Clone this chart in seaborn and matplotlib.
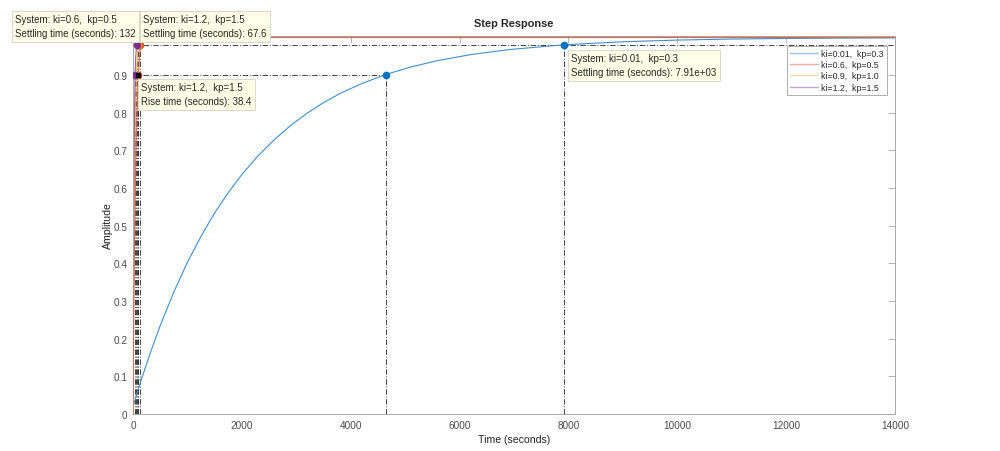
import numpy as np
import pandas as pd
import matplotlib
matplotlib.use('Agg')
import matplotlib.pyplot as plt
import seaborn as sns

# Valori (risposta al gradino)
labels = ['ki=0.01,  kp=0.3', 'ki=0.6,  kp=0.5', 'ki=0.9,  kp=1.0', 'ki=1.2,  kp=1.5']
line_colors = ['#3f8fc9', '#d9694a', '#efbf5a', '#9a5aa4']
marker_colors = ['#0072BD', '#D95319', '#EDB120', '#7E2F8E']

t_blue = [0, 150, 300, 500, 750, 1000, 1250, 1500, 1750, 2000, 2300, 2600, 2900, 3200,
          3500, 3800, 4200, 4650, 5100, 5600, 6200, 6900, 7910, 9000, 10000, 11000,
          12000, 13000, 14000]
y_blue = [0.02, 0.09, 0.155, 0.235, 0.324, 0.403, 0.472, 0.534, 0.588, 0.636, 0.686,
          0.729, 0.767, 0.799, 0.827, 0.851, 0.8775, 0.902, 0.9215, 0.9387, 0.9544,
          0.9677, 0.9805, 0.9886, 0.9931, 0.9958, 0.9974, 0.9984, 0.999]

t_red = [0, 10, 25, 40, 60, 80, 100, 132, 170, 220, 300, 14000]
y_red = [0.0, 0.2, 0.42, 0.58, 0.73, 0.83, 0.90, 0.98, 0.99, 0.997, 1.0, 1.0]

t_orange = [0, 10, 20, 30, 45, 63, 80, 95, 120, 160, 250, 14000]
y_orange = [0.0, 0.3, 0.5, 0.65, 0.8, 0.90, 0.95, 0.98, 0.99, 0.997, 1.0, 1.0]

t_purple = [0, 5, 10, 20, 30, 38.4, 50, 67.6, 90, 120, 200, 14000]
y_purple = [0.0, 0.25, 0.45, 0.68, 0.82, 0.90, 0.95, 0.98, 0.993, 0.998, 1.0, 1.0]

# Tempi caratteristici (salita al 90%, assestamento al 98%)
rise_times = [4650, 100, 63, 38.4]
settle_times = [7910, 132, 95, 67.6]

xticks = [0, 2000, 4000, 6000, 8000, 10000, 12000, 14000]
yticks = [0, 0.1, 0.2, 0.3, 0.4, 0.5, 0.6, 0.7, 0.8, 0.9]

# DataFrame lungo per seaborn
frames = []
for lab, t, y in zip(labels, [t_blue, t_red, t_orange, t_purple],
                     [y_blue, y_red, y_orange, y_purple]):
    frames.append(pd.DataFrame({'t': t, 'amp': y, 'system': lab}))
df = pd.concat(frames, ignore_index=True)

sns.set_style('white')
plt.rcParams['font.family'] = ['Liberation Sans', 'DejaVu Sans']

fig = plt.figure(figsize=(10, 4.52), dpi=100)
ax = fig.add_axes([0.133, 0.0819, 0.762, 0.8363])

sns.lineplot(data=df, x='t', y='amp', hue='system', hue_order=labels,
             palette=dict(zip(labels, line_colors)), estimator=None, sort=False,
             linewidth=0.8, ax=ax)
# la curva rossa sta sopra le altre, come nel riferimento
ax.lines[1].set_zorder(4)

# Linee caratteristiche tratto-punto
dash = dict(color='#333333', linewidth=0.65, linestyle=(0, (6, 2, 1, 2)), zorder=1)
for rt, st in zip(rise_times, settle_times):
    ax.plot([rt, rt], [0, 0.9], **dash)
    ax.plot([0, rt], [0.9, 0.9], **dash)
    ax.plot([st, st], [0, 0.98], **dash)
ax.plot([0, 14000], [0.98, 0.98], **dash)

# Marcatori dei punti caratteristici
for c, rt, st in zip(marker_colors, rise_times, settle_times):
    ax.plot([rt, st], [0.9, 0.98], 'o', color=c, markersize=4.5, zorder=5)
ax.plot([rise_times[3] + 60], [0.9], 's', color='k', markersize=3, zorder=6)

ax.set_xlim(0, 14000)
ax.set_ylim(0, 1.004)
ax.set_xticks(xticks)
ax.set_yticks(yticks)
ax.set_yticklabels(['0'] + [f'{v:.1f}' for v in yticks[1:]])
ax.tick_params(direction='in', length=5, width=0.6, colors='#a8a8a8',
               labelcolor='#4a4a4a', labelsize=7.2, top=True, right=True, pad=4)
for s in ax.spines.values():
    s.set_color('#a8a8a8')
    s.set_linewidth(0.7)

ax.set_title('Step Response', fontsize=7.9, fontweight='bold', pad=7)
ax.set_xlabel('Time (seconds)', fontsize=7.6, color='#222222', labelpad=3)
ax.set_ylabel('Amplitude', fontsize=7.6, color='#222222', labelpad=0)

leg = ax.legend(loc='upper right', bbox_to_anchor=(0.9895, 0.9735), borderaxespad=0,
                fontsize=6.3, frameon=True, fancybox=False, handlelength=3.2,
                handletextpad=0.4, labelspacing=0.25, borderpad=0.35)
leg.get_frame().set_edgecolor('#999999')
leg.get_frame().set_linewidth(0.7)
for h in leg.get_lines():
    h.set_alpha(0.55)
    h.set_linewidth(1.0)

# Etichette dei data tip
box = dict(boxstyle='square,pad=0.35', facecolor='#ffffe8', edgecolor='#d8d8c8', linewidth=0.7)
tips = [
    (15, 15, 'System: ki=0.6,  kp=0.5\nSettling time (seconds): 132'),
    (143, 15, 'System: ki=1.2,  kp=1.5\nSettling time (seconds): 67.6'),
    (141, 83, 'System: ki=1.2,  kp=1.5\nRise time (seconds): 38.4'),
    (571, 54, 'System: ki=0.01,  kp=0.3\nSettling time (seconds): 7.91e+03'),
]
for x, y, txt in tips:
    fig.text(x / 1000, 1 - y / 452, txt, ha='left', va='top', fontsize=7,
             linespacing=1.55, bbox=box, zorder=10)

fig.savefig('out.png', dpi=100)
